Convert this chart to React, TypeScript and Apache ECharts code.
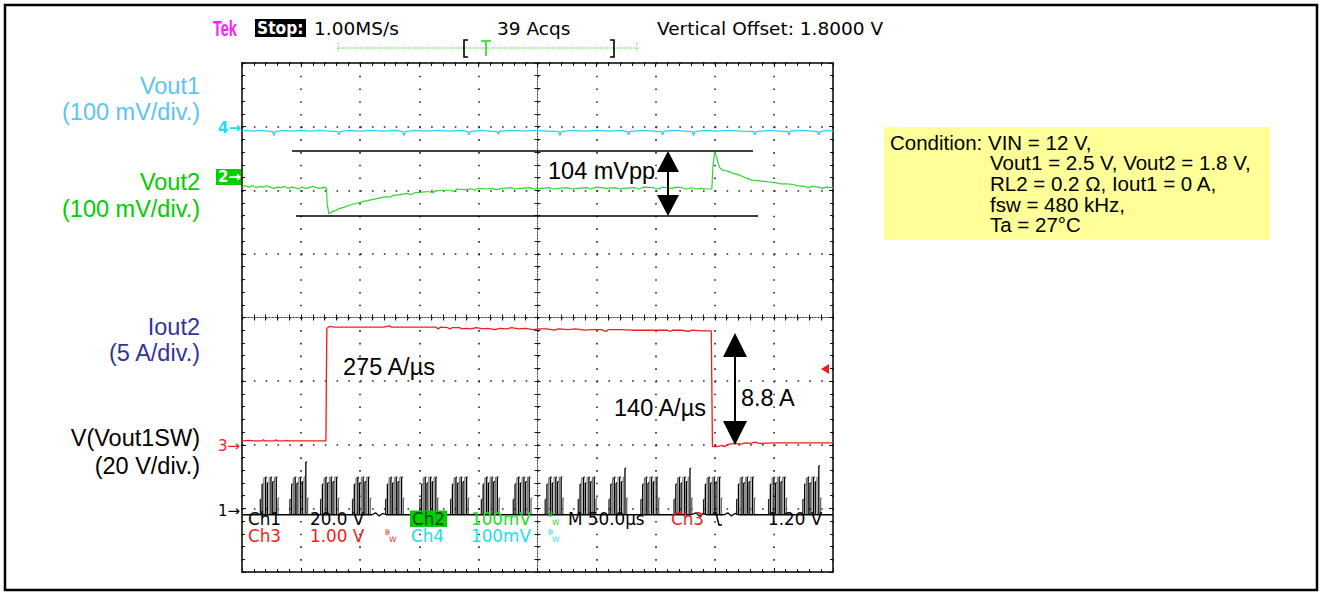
import React, { useEffect, useRef } from "react";
import * as echarts from "echarts";

// Horizontal: time in µs relative to screen centre (50 µs/div, 10 div)
// Vertical: screen divisions relative to the centre line (8 div)
const TIME_MIN = -250;
const TIME_MAX = 250;
const TIME_PER_DIV = 50;
const DIV_MIN = -4;
const DIV_MAX = 4;

// Ch4 – Vout1 (100 mV/div)
const vout1Trace: [number, number][] = [
  [-250, 2.93], [-246, 2.94], [-240, 2.93], [-234, 2.94], [-228, 2.93], [-224, 2.92], [-223, 2.86], [-222, 2.92],
  [-216, 2.94], [-208, 2.93], [-200, 2.94], [-192, 2.93], [-184, 2.94], [-176, 2.93], [-169, 2.92], [-168, 2.87],
  [-167, 2.92], [-160, 2.94], [-150, 2.93], [-140, 2.94], [-130, 2.93], [-120, 2.94], [-114, 2.92], [-113, 2.86],
  [-112, 2.92], [-104, 2.94], [-94, 2.93], [-84, 2.94], [-74, 2.93], [-64, 2.94], [-59, 2.92], [-58, 2.87],
  [-57, 2.92], [-48, 2.94], [-40, 2.93], [-34, 2.92], [-33, 2.88], [-32, 2.93], [-22, 2.94], [-12, 2.93],
  [-2, 2.94], [8, 2.93], [18, 2.92], [19, 2.86], [20, 2.92], [30, 2.94], [40, 2.93], [50, 2.94], [60, 2.93],
  [70, 2.94], [76, 2.92], [77, 2.87], [78, 2.92], [88, 2.94], [98, 2.93], [105, 2.92], [106, 2.87], [107, 2.93],
  [116, 2.94], [124, 2.93], [131, 2.92], [132, 2.86], [133, 2.92], [142, 2.94], [152, 2.93], [162, 2.94],
  [172, 2.93], [183, 2.92], [184, 2.87], [185, 2.92], [195, 2.94], [205, 2.93], [212, 2.92], [213, 2.87],
  [214, 2.93], [224, 2.94], [232, 2.93], [237, 2.92], [238, 2.87], [239, 2.92], [245, 2.94], [250, 2.93],
];

// Ch2 – Vout2 (100 mV/div)
const vout2Trace: [number, number][] = [
  [-250, 2.05], [-247, 2.07], [-244, 2.05], [-241, 2.07], [-238, 2.04], [-235, 2.06], [-232, 2.05], [-229, 2.07],
  [-226, 2.05], [-223, 2.03], [-220, 2.05], [-217, 2.04], [-214, 2.06], [-211, 2.03], [-208, 2.05], [-205, 2.04],
  [-202, 2.02], [-199, 2.05], [-196, 2.03], [-193, 2.04], [-190, 2.06], [-187, 2.04], [-184, 2.03], [-181, 2.05],
  [-178.5, 2.03], [-178, 1.8], [-176.5, 1.63], [-174, 1.66], [-171, 1.68], [-168, 1.71], [-164, 1.73], [-160, 1.76],
  [-156, 1.78], [-152, 1.8], [-148, 1.82], [-143, 1.84], [-138, 1.86], [-133, 1.88], [-128, 1.9], [-125, 1.89],
  [-122, 1.92], [-116, 1.93], [-110, 1.95], [-107, 1.93], [-104, 1.96], [-98, 1.97], [-92, 1.98], [-89, 1.96],
  [-86, 1.99], [-80, 2.0], [-74, 2.0], [-71, 1.98], [-68, 2.02], [-62, 2.01], [-56, 2.02], [-53, 2.0], [-50, 2.03],
  [-44, 2.02], [-38, 2.03], [-35, 2.01], [-30, 2.03], [-22, 2.04], [-19, 2.02], [-14, 2.03], [-6, 2.04], [-3, 2.02],
  [2, 2.03], [10, 2.04], [13, 2.02], [18, 2.03], [26, 2.04], [29, 2.02], [34, 2.03], [42, 2.04], [45, 2.02],
  [50, 2.05], [58, 2.03], [66, 2.04], [69, 2.02], [74, 2.03], [82, 2.04], [86, 2.02], [90, 2.05], [98, 2.04],
  [102, 2.02], [106, 2.05], [114, 2.03], [118, 2.05], [122, 2.04], [126, 2.02], [130, 2.04], [134, 2.02],
  [138, 2.03], [144, 2.02], [147.5, 2.02], [148.5, 2.4], [150, 2.62], [152, 2.48], [154, 2.36], [157, 2.31],
  [161, 2.3], [165, 2.27], [169, 2.25], [173, 2.22], [177, 2.19], [181, 2.16], [186, 2.15], [191, 2.14],
  [196, 2.13], [201, 2.12], [206, 2.1], [211, 2.1], [216, 2.09], [221, 2.07], [226, 2.06], [229, 2.04],
  [232, 2.06], [238, 2.05], [241, 2.03], [244, 2.05], [250, 2.04],
];

// Ch3 – Iout2 (5 A/div)
const iout2Trace: [number, number][] = [
  [-250, -1.94], [-244, -1.93], [-240, -1.94], [-233, -1.94], [-232, -1.92], [-231, -1.94], [-222, -1.94],
  [-221, -1.92], [-220, -1.94], [-213, -1.94], [-212, -1.93], [-211, -1.94], [-179, -1.94], [-178.6, -0.95],
  [-178.2, -0.17], [-176, -0.14], [-172, -0.15], [-150, -0.15], [-130, -0.15], [-125, -0.13], [-124, -0.15],
  [-100, -0.15], [-86, -0.15], [-84, -0.18], [-82, -0.15], [-76, -0.16], [-74, -0.18], [-72, -0.16], [-66, -0.16],
  [-64, -0.18], [-60, -0.17], [-56, -0.18], [-52, -0.16], [-46, -0.18], [-42, -0.17], [-36, -0.19], [-32, -0.17],
  [-26, -0.18], [-22, -0.16], [-16, -0.18], [-10, -0.17], [-4, -0.19], [2, -0.18], [8, -0.18], [14, -0.2],
  [18, -0.18], [26, -0.19], [32, -0.18], [40, -0.2], [46, -0.19], [54, -0.19], [58, -0.22], [60, -0.19],
  [70, -0.19], [80, -0.2], [90, -0.2], [100, -0.2], [110, -0.2], [112, -0.22], [114, -0.2], [122, -0.2],
  [128, -0.22], [130, -0.2], [140, -0.21], [147, -0.21], [147.5, -1.1], [148, -2.03], [152, -2.03], [156, -2.01],
  [158, -2.03], [162, -1.99], [168, -1.98], [172, -1.99], [176, -1.97], [180, -1.98], [184, -1.96], [188, -1.98],
  [200, -1.97], [230, -1.97], [250, -1.97],
];

// Ch1 – V(Vout1SW) (20 V/div): baseline plus aliased switching bursts
const swBaseline: [number, number][] = [
  [-250, -3.1], [-140, -3.1], [-137, -3.07], [-134, -3.12], [-131, -3.08], [-128, -3.1], [130, -3.1],
  [134, -3.07], [137, -3.12], [140, -3.08], [143, -3.1], [158, -3.1], [161, -3.07], [164, -3.12],
  [167, -3.08], [170, -3.1], [250, -3.1],
];
const swBurstTimes = [-227, -202, -176, -149, -121, -92, -66, -40, -13, 14, 42, 68, 95, 123, 148, 176, 203, 232];
const swBurstPeaks = [-2.51, -2.27, -2.51, -2.51, -2.51, -2.51, -2.51, -2.51, -2.51, -2.51, -2.51, -2.37, -2.51, -2.37, -2.51, -2.51, -2.51, -2.33];
const pulseOffsets = [-7.5, -6, -4.5, -3, -1.5, 0, 1.5, 3, 4.5, 6, 7.5];
const pulseTops = [-2.86, -2.62, -2.52, -2.51, -2.6, -2.51, -2.51, -2.58, -2.51, -2.62, -2.84];
const pulseShades = ["#222", "#000", "#7a7a7a", "#000", "#000", "#888", "#000", "#000", "#7a7a7a", "#000", "#666"];
const SPIKE_PULSE = 9;
const SW_BASE = -3.1;

const SANS = "'Liberation Sans', Arial, sans-serif";
const TEK = "'DejaVu Sans', sans-serif";

const C_CYAN = "#25d4f2";
const C_GREEN = "#2fd62f";
const C_RED = "#f01c1c";

function txt(x: number, y: number, text: string, fill: string, fontSize: number, fontFamily: string, align = "left", extra: any = {}, el: any = {}) {
  return {
    type: "text", x, y, z: 100, silent: true, ...el,
    style: { text, fill, fontSize, fontFamily, textAlign: align, textVerticalAlign: "middle", ...extra },
  };
}
function line(x1: number, y1: number, x2: number, y2: number, stroke: string, lineWidth: number, extra: any = {}) {
  return { type: "line", z: 100, silent: true, shape: { x1, y1, x2, y2 }, style: { stroke, lineWidth, ...extra } };
}
function poly(points: number[][], fill: string) {
  return { type: "polygon", z: 100, silent: true, shape: { points }, style: { fill } };
}
function pline(points: number[][], stroke: string, lineWidth: number) {
  return { type: "polyline", z: 100, silent: true, shape: { points }, style: { stroke, lineWidth, fill: "none" } };
}
function bw(x: number, y: number, fill: string) {
  return [txt(x, y - 4, "B", fill, 7.5, TEK), txt(x + 4, y + 3.5, "W", fill, 7.5, TEK)];
}

const tickStyle = { color: "#111", width: 1 };
function borderX(position: string, split: boolean) {
  return {
    type: "value", min: TIME_MIN, max: TIME_MAX, interval: TIME_PER_DIV, position,
    axisLine: { show: true, onZero: false, lineStyle: { color: "#000", width: 1.5 } },
    axisTick: { show: true, inside: true, length: 4, lineStyle: tickStyle },
    minorTick: { show: true, splitNumber: 5, length: 3, lineStyle: tickStyle },
    axisLabel: { show: false },
    splitLine: { show: split, lineStyle: { color: "#222", width: 1.6, type: [1.6, 11.12] } },
  };
}
function borderY(position: string, split: boolean) {
  return {
    type: "value", min: DIV_MIN, max: DIV_MAX, interval: 1, position,
    axisLine: { show: true, onZero: false, lineStyle: { color: "#000", width: 1.5 } },
    axisTick: { show: true, inside: true, length: 4, lineStyle: tickStyle },
    minorTick: { show: true, splitNumber: 5, length: 3, lineStyle: tickStyle },
    axisLabel: { show: false },
    splitLine: { show: split, lineStyle: { color: "#222", width: 1.6, type: [1.6, 10.22] } },
  };
}
function centerX(inside: boolean) {
  return {
    type: "value", min: TIME_MIN, max: TIME_MAX, interval: TIME_PER_DIV, position: "bottom",
    axisLine: { show: true, onZero: true, onZeroAxisIndex: 0, lineStyle: { color: "#444", width: 1, type: [1, 2] } },
    axisTick: { show: true, inside, length: 3, lineStyle: tickStyle },
    minorTick: { show: true, splitNumber: 5, length: 3, lineStyle: tickStyle },
    axisLabel: { show: false }, splitLine: { show: false },
  };
}
function centerY(inside: boolean) {
  return {
    type: "value", min: DIV_MIN, max: DIV_MAX, interval: 1, position: "left",
    axisLine: { show: true, onZero: true, onZeroAxisIndex: 0, lineStyle: { color: "#444", width: 1, type: [1, 2] } },
    axisTick: { show: true, inside, length: 3, lineStyle: tickStyle },
    minorTick: { show: true, splitNumber: 5, length: 3, lineStyle: tickStyle },
    axisLabel: { show: false }, splitLine: { show: false },
  };
}

const conditionHead = "Condition: VIN = 12 V,";
const conditionLines = [
  "Vout1 = 2.5 V, Vout2 = 1.8 V,",
  "RL2 = 0.2 Ω, Iout1 = 0 A,",
  "fsw = 480 kHz,",
  "Ta = 27°C",
];

function buildGraphic() {
  const els: any[] = [];
  // outer frame
  els.push({ type: "rect", z: 100, silent: true, shape: { x: 5, y: 5, width: 1312, height: 585 }, style: { fill: "none", stroke: "#000", lineWidth: 2.5 } });

  // header
  els.push(txt(213, 28, "Tek", "#ff1aff", 22, SANS, "left", { fontWeight: "bold" }, { scaleX: 0.66 }));
  els.push({ type: "rect", z: 99, silent: true, shape: { x: 255, y: 19, width: 51, height: 18 }, style: { fill: "#000" } });
  els.push(txt(257, 28, "Stop:", "#fff", 18, TEK, "left", { fontWeight: "bold" }, { scaleX: 0.86 }));
  els.push(txt(314, 28, "1.00MS/s", "#000", 18.5, TEK));
  els.push(txt(497, 28, "39 Acqs", "#000", 18.5, TEK));
  els.push(txt(657, 28, "Vertical Offset: 1.8000 V", "#000", 18.5, TEK));

  // trigger / record bar
  els.push(line(338, 48, 637, 48, "#22dd22", 1.2, { lineDash: [1.2, 1.2] }));
  els.push(line(338, 43, 338, 53, "#22dd22", 1, { lineDash: [1, 1.5] }));
  els.push(line(637, 43, 637, 53, "#22dd22", 1, { lineDash: [1, 1.5] }));
  els.push(pline([[468, 40], [464, 40], [464, 57], [468, 57]], "#000", 1.6));
  els.push(pline([[610, 40], [614, 40], [614, 57], [610, 57]], "#000", 1.6));
  els.push(line(481, 41, 491, 41, "#22dd22", 1.6));
  els.push(line(486, 41, 486, 56, "#22dd22", 1.6));

  // left labels
  els.push(txt(200, 86, "Vout1", "#5cc3f5", 23.5, SANS, "right"));
  els.push(txt(200, 112, "(100 mV/div.)", "#5cc3f5", 23.5, SANS, "right"));
  els.push(txt(200, 182, "Vout2", "#00cc00", 23.5, SANS, "right"));
  els.push(txt(200, 209, "(100 mV/div.)", "#00cc00", 23.5, SANS, "right"));
  els.push(txt(200, 327, "Iout2", "#333399", 23.5, SANS, "right"));
  els.push(txt(200, 353, "(5 A/div.)", "#333399", 23.5, SANS, "right"));
  els.push(txt(200, 438, "V(Vout1SW)", "#000", 23.5, SANS, "right"));
  els.push(txt(200, 466, "(20 V/div.)", "#000", 23.5, SANS, "right"));

  // channel ground markers
  els.push(txt(218, 128, "4→", "#22dcf0", 15, TEK, "left", { fontWeight: "bold" }));
  els.push({ type: "rect", z: 99, silent: true, shape: { x: 216, y: 169, width: 25, height: 16 }, style: { fill: "#00d000" } });
  els.push(txt(218, 177, "2→", "#fff", 15, TEK, "left", { fontWeight: "bold" }));
  els.push(txt(218, 446, "3→", C_RED, 15, TEK));
  els.push(txt(218, 511, "1→", "#000", 15, TEK));
  // trigger level marker
  els.push(poly([[821, 369], [829, 364], [829, 374]], C_RED));

  // condition box
  els.push({ type: "rect", z: 99, silent: true, shape: { x: 884, y: 127, width: 386, height: 113 }, style: { fill: "#ffff99" } });
  els.push(txt(890, 142, conditionHead, "#000", 20.5, SANS));
  els.push({
    type: "text", x: 990, y: 152.5, z: 100, silent: true,
    style: { text: conditionLines.join("\n"), fill: "#000", fontSize: 20.5, fontFamily: SANS, lineHeight: 20.6, textAlign: "left", textVerticalAlign: "top" },
  });

  // 104 mVpp annotation
  els.push(line(292, 151, 753, 151, "#000", 1.5));
  els.push(line(296, 216, 758, 216, "#000", 1.5));
  els.push(line(668, 160, 668, 206, "#000", 2));
  els.push(poly([[668, 151], [657, 172], [679, 172]], "#000"));
  els.push(poly([[668, 216], [657, 195], [679, 195]], "#000"));
  els.push(txt(548, 171, "104 mVpp", "#000", 23.5, SANS));

  // current step annotations
  els.push(txt(343, 367, "275 A/µs", "#000", 23.5, SANS));
  els.push(txt(614, 408, "140 A/µs", "#000", 23.5, SANS));
  els.push(txt(741, 398, "8.8 A", "#000", 23.5, SANS));
  els.push(line(735, 345, 735, 433, "#000", 2));
  els.push(poly([[735, 333], [723, 357], [747, 357]], "#000"));
  els.push(poly([[735, 445], [723, 421], [747, 421]], "#000"));

  // scope readout
  const r1 = 518.5;
  const r2 = 536;
  const fs = 16.8;
  els.push(txt(248, r1, "Ch1", "#000", fs, TEK));
  els.push(txt(310, r1, "20.0 V", "#000", fs, TEK));
  els.push({ type: "rect", z: 99, silent: true, shape: { x: 410, y: 510.5, width: 37, height: 16.5 }, style: { fill: "#00d000" } });
  els.push(txt(412, r1, "Ch2", "#0a4a0a", fs, TEK));
  els.push(txt(471, r1, "100mV", "#22dd22", fs, TEK));
  els.push(...bw(548, r1, "#22dd22"));
  els.push(txt(568, r1, "M 50.0µs", "#000", fs, TEK));
  els.push(txt(671, r1, "Ch3", C_RED, fs, TEK));
  els.push(pline([[713, 513], [716, 513], [719, 525], [722, 525]], "#000", 1.5));
  els.push(txt(768, r1, "1.20 V", "#000", fs, TEK));
  els.push(txt(248, r2, "Ch3", C_RED, fs, TEK));
  els.push(txt(310, r2, "1.00 V", C_RED, fs, TEK));
  els.push(...bw(385, r2, C_RED));
  els.push(txt(411, r2, "Ch4", "#22dcf0", fs, TEK));
  els.push(txt(471, r2, "100mV", "#22dcf0", fs, TEK));
  els.push(...bw(548, r2, "#22dcf0"));
  return els;
}

export default function App() {
  const ref = useRef<HTMLDivElement>(null);
  useEffect(() => {
    if (!ref.current) return;
    const chart = echarts.init(ref.current, undefined, { renderer: "svg" });
    const option: any = {
      animation: false,
      backgroundColor: "#fff",
      grid: { left: 242, top: 63, width: 591, height: 509, containLabel: false },
      xAxis: [borderX("bottom", true), borderX("top", false), centerX(false), centerX(true)],
      yAxis: [borderY("left", true), borderY("right", false), centerY(false), centerY(true)],
      series: [
        {
          name: "V(Vout1SW)", type: "line", data: swBaseline, symbol: "none", silent: true, z: 3,
          lineStyle: { color: "#000", width: 1.3 },
        },
        {
          name: "V(Vout1SW) bursts", type: "custom", silent: true, z: 3,
          data: swBurstTimes.map((t, i) => [t, swBurstPeaks[i]]),
          renderItem: (params: any, api: any) => {
            const t = api.value(0) as number;
            const peak = api.value(1) as number;
            const children: any[] = [];
            pulseOffsets.forEach((off, k) => {
              const top = k === SPIKE_PULSE ? Math.max(peak, pulseTops[k]) : pulseTops[k];
              const p0 = api.coord([t + off, SW_BASE]);
              const p1 = api.coord([t + off, top]);
              const pc = api.coord([t + off + 1, top]);
              children.push({ type: "line", shape: { x1: p0[0], y1: p0[1], x2: p1[0], y2: p1[1] }, style: { stroke: pulseShades[k], lineWidth: 1.3 } });
              children.push({ type: "line", shape: { x1: p1[0], y1: p1[1], x2: pc[0], y2: pc[1] }, style: { stroke: pulseShades[k], lineWidth: 1.2 } });
            });
            return { type: "group", children };
          },
        },
        {
          name: "Iout2", type: "line", data: iout2Trace, symbol: "none", silent: true, z: 4,
          lineStyle: { color: C_RED, width: 1.3 },
        },
        {
          name: "Vout2", type: "line", data: vout2Trace, symbol: "none", silent: true, z: 4,
          lineStyle: { color: C_GREEN, width: 1.2 },
        },
        {
          name: "Vout1", type: "line", data: vout1Trace, symbol: "none", silent: true, z: 4,
          lineStyle: { color: C_CYAN, width: 1.3 },
        },
      ],
      graphic: { elements: buildGraphic() },
    };
    chart.setOption(option);
    return () => chart.dispose();
  }, []);
  return (
    <div
      ref={ref}
      style={{ position: "absolute", left: 0, top: 0, width: 1322, height: 594, background: "#fff" }}
    />
  );
}
